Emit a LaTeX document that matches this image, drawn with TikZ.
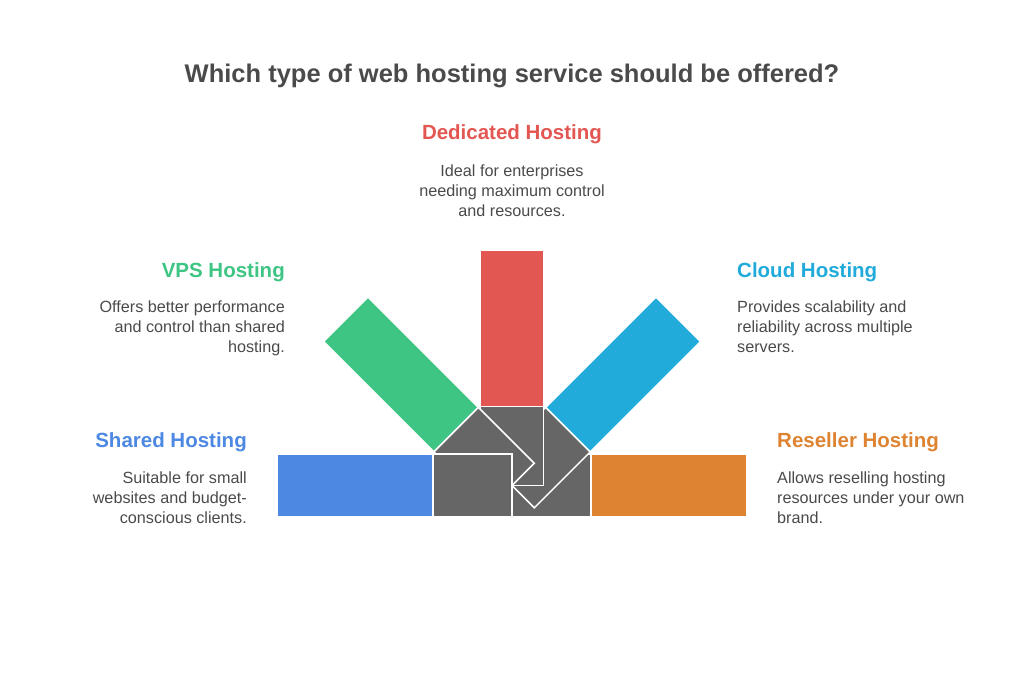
\documentclass[tikz,border=0pt]{standalone}
\usepackage{fontspec}
\setmainfont{Liberation Sans}
\usepackage{tikz}
\usetikzlibrary{positioning}
\definecolor{shared}{HTML}{4D88E3}
\definecolor{vps}{HTML}{3EC583}
\definecolor{dedic}{HTML}{E35753}
\definecolor{cloud}{HTML}{20ABDB}
\definecolor{resell}{HTML}{DD8331}
\definecolor{core}{HTML}{666666}
\definecolor{txt}{HTML}{4A4A4A}

\tikzset{
  ttl/.style={font=\fontsize{25.5}{30}\selectfont\bfseries,text=txt,inner sep=0pt},
  head/.style={font=\fontsize{20.5}{24}\selectfont\bfseries,inner sep=0pt},
  desc/.style={font=\fontsize{16.2}{20}\selectfont,text=txt,inner sep=0pt},
  blade/.style={draw=white,line width=1.5pt}
}

\begin{document}
\begin{tikzpicture}[x=1pt,y=-1pt]
\useasboundingbox (0,0) rectangle (1024,696);
\coordinate (hub) at (512,485.5);
% fan of bars, gray inner parts stacked right to left
\foreach \ang/\col in {0/resell,45/cloud,90/dedic,135/vps,180/shared}{
  \begin{scope}[shift={(hub)},rotate=\ang]
    \fill[\col,blade] (79,-31.5) rectangle (235,31.5);
    \fill[core,blade] (0,-31.5) rectangle (79,31.5);
  \end{scope}
}
\node[ttl,anchor=base] (title) at (512,82) {Which type of web hosting service should be offered?};

\node[head,text=dedic,anchor=base] (dedhead) at (512,139) {Dedicated Hosting};
\node[desc,align=center,anchor=north] (deddesc) at (512,165) {Ideal for enterprises\\needing maximum control\\and resources.};

\node[head,text=vps,anchor=base east] (vpshead) at (285,277) {VPS Hosting};
\node[desc,align=right,anchor=north east] (vpsdesc) at (285,301) {Offers better performance\\and control than shared\\hosting.};

\node[head,text=cloud,anchor=base west] (cloudhead) at (737,277) {Cloud Hosting};
\node[desc,align=left,anchor=north west] (clouddesc) at (737,301) {Provides scalability and\\reliability across multiple\\servers.};

\node[head,text=shared,anchor=base east] (sharedhead) at (247,447) {Shared Hosting};
\node[desc,align=right,anchor=north east] (shareddesc) at (247,472) {Suitable for small\\websites and budget-\\conscious clients.};

\node[head,text=resell,anchor=base west] (resellhead) at (777,447) {Reseller Hosting};
\node[desc,align=left,anchor=north west] (reselldesc) at (777,472) {Allows reselling hosting\\resources under your own\\brand.};
\end{tikzpicture}
\end{document}
